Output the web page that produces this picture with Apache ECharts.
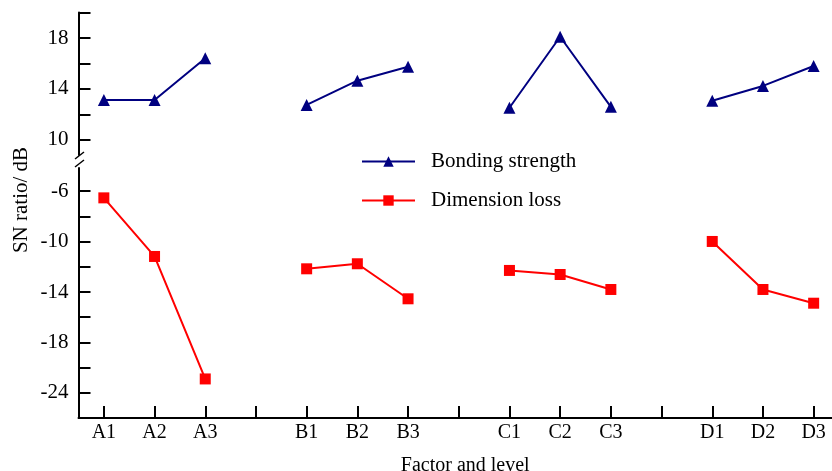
<!DOCTYPE html>
<html>
<head>
<meta charset="utf-8">
<script src="https://cdn.jsdelivr.net/npm/echarts@6/dist/echarts.min.js"></script>
<style>
html,body{margin:0;padding:0;background:#fff;}
#chart{width:832px;height:471px;}
</style>
</head>
<body>
<div id="chart"></div>
<script>
// ---- data ----
var categories = ['A1','A2','A3','','B1','B2','B3','','C1','C2','C3','','D1','D2','D3'];
var bondingStrength = [13.14, 13.14, 16.41, null, 12.75, 14.65, 15.75, null, 12.53, 18.1, 12.6, null, 13.08, 14.24, 15.8];
var dimensionLoss = [-6.53, -11.18, -20.9, null, -12.16, -11.76, -14.54, null, -12.29, -12.61, -13.8, null, -9.99, -13.8, -14.89];
var seriesNames = ['Bonding strength', 'Dimension loss'];
var yTopTickValues = [10, 12, 14, 16, 18, 20];
var yTopLabelValues = [10, 14, 18];
var yLowTickValues = [-22, -20, -18, -16, -14, -12, -10, -8, -6];
var yLowLabelValues = [-6, -10, -14, -18, -22];
var yLowLabelTexts = ['-6', '-10', '-14', '-18', '-24'];
var yAxisTitle = 'SN ratio/ dB';
var xAxisTitle = 'Factor and level';

var FONT = "'Liberation Serif', 'Times New Roman', serif";
var chart = echarts.init(document.getElementById('chart'));

var axisLineStyle = {color: '#000', width: 2};
var tickStyle = {show: true, inside: true, length: 12, lineStyle: {color: '#000', width: 2}};

var option = {
  backgroundColor: '#fff',
  animation: false,
  grid: [
    {left: 78.5, top: 12.5, width: 760.5, height: 142.5, containLabel: false, outerBoundsMode: 'none'},
    {left: 78.5, top: 168, width: 760.5, height: 250, containLabel: false, outerBoundsMode: 'none'}
  ],
  legend: {
    orient: 'vertical',
    left: 356,
    top: 146,
    itemWidth: 53,
    itemHeight: 13,
    itemGap: 18,
    textStyle: {fontFamily: FONT, fontSize: 21, color: '#000', padding: [0, 0, 0, 11]},
    data: seriesNames
  },
  xAxis: [
    {
      type: 'category', gridIndex: 0, data: categories, boundaryGap: true, show: false
    },
    {
      type: 'category', gridIndex: 1, data: categories, boundaryGap: true,
      axisLine: {lineStyle: axisLineStyle},
      axisTick: {show: true, inside: true, length: 12, alignWithLabel: true, interval: 0, lineStyle: {color: '#000', width: 2}},
      axisLabel: {interval: 0, color: '#000', fontFamily: FONT, fontSize: 20, margin: 5},
      name: xAxisTitle,
      nameLocation: 'middle',
      nameGap: 38,
      nameTextStyle: {fontFamily: FONT, fontSize: 20, color: '#000', padding: [0, 0, 0, 13]},
      splitLine: {show: false}
    }
  ],
  yAxis: [
    {
      type: 'value', gridIndex: 0, min: 8.82, max: 20,
      axisLine: {show: true, lineStyle: axisLineStyle},
      axisTick: Object.assign({customValues: yTopTickValues}, tickStyle),
      axisLabel: {customValues: yTopLabelValues, color: '#000', fontFamily: FONT, fontSize: 21, margin: 10},
      splitLine: {show: false}
    },
    {
      type: 'value', gridIndex: 1, min: -24, max: -4.16,
      axisLine: {show: true, lineStyle: axisLineStyle},
      axisTick: Object.assign({customValues: yLowTickValues}, tickStyle),
      axisLabel: {
        customValues: yLowLabelValues, color: '#000', fontFamily: FONT, fontSize: 21, margin: 10,
        formatter: function (v) {
          var i = yLowLabelValues.indexOf(v);
          return i >= 0 ? yLowLabelTexts[i] : '';
        }
      },
      splitLine: {show: false}
    }
  ],
  graphic: [
    {type: 'line', shape: {x1: 75, y1: 159, x2: 84, y2: 152}, style: {stroke: '#000', lineWidth: 1.5}},
    {type: 'line', shape: {x1: 75, y1: 167, x2: 84, y2: 160}, style: {stroke: '#000', lineWidth: 1.5}},
    {type: 'text', x: 21, y: 200, rotation: Math.PI / 2,
     style: {text: yAxisTitle, fontFamily: FONT, fontSize: 21, fill: '#000', align: 'center', verticalAlign: 'middle'}}
  ],
  series: [
    {
      name: seriesNames[0], type: 'line', xAxisIndex: 0, yAxisIndex: 0,
      data: bondingStrength, connectNulls: false,
      symbol: 'triangle', symbolSize: 12, showAllSymbol: true,
      lineStyle: {color: '#000080', width: 2},
      itemStyle: {color: '#000080'}
    },
    {
      name: seriesNames[1], type: 'line', xAxisIndex: 1, yAxisIndex: 1,
      data: dimensionLoss, connectNulls: false,
      symbol: 'rect', symbolSize: 11, showAllSymbol: true,
      lineStyle: {color: '#ff0000', width: 2},
      itemStyle: {color: '#ff0000'}
    }
  ]
};
chart.setOption(option);
</script>
</body>
</html>
